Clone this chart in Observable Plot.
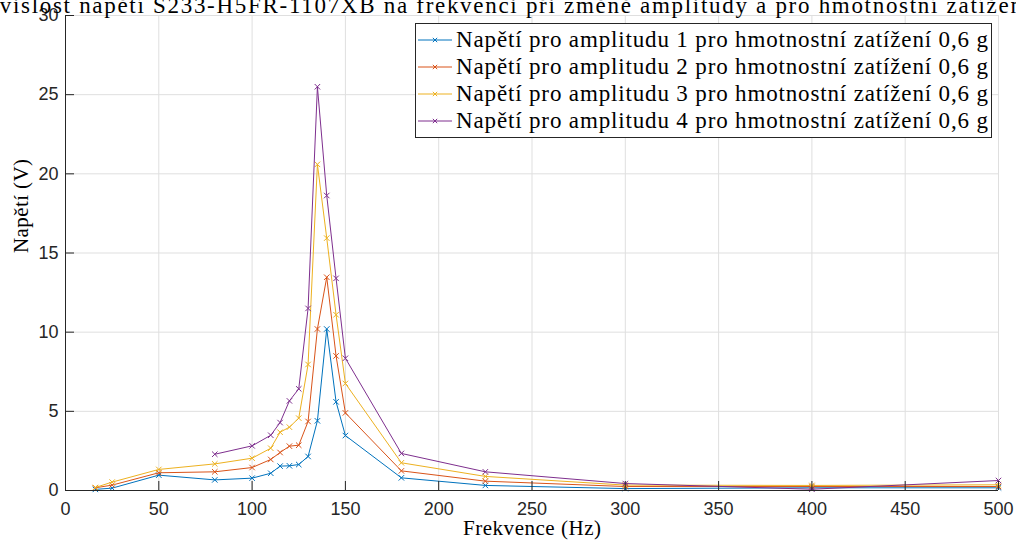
<!DOCTYPE html>
<html><head><meta charset="utf-8">
<script src="https://cdn.jsdelivr.net/npm/d3@7"></script>
<script src="https://cdn.jsdelivr.net/npm/@observablehq/plot@0.6"></script>
<style>
html,body{margin:0;padding:0;background:#fff;}
#wrap{position:relative;width:1016px;height:544px;overflow:hidden;}
#legend{position:absolute;left:415px;top:23px;}
</style></head><body><div id="wrap"></div>
<script>
const title = "Závislost napětí S233-H5FR-1107XB na frekvenci při změně amplitudy a pro hmotnostní zatížení 0,6 g";
const xLabel = "Frekvence (Hz)";
const yLabel = "Napětí (V)";
const seriesNames = [
  "Napětí pro amplitudu 1 pro hmotnostní zatížení 0,6 g",
  "Napětí pro amplitudu 2 pro hmotnostní zatížení 0,6 g",
  "Napětí pro amplitudu 3 pro hmotnostní zatížení 0,6 g",
  "Napětí pro amplitudu 4 pro hmotnostní zatížení 0,6 g"
];
const colors = ["#0072BD", "#D95319", "#EDB120", "#7E2F8E"];
const freq = [16, 25, 50, 80, 100, 110, 115, 120, 125, 130, 135, 140, 145, 150, 180, 225, 300, 400, 500];
const amp1 = [0.07, 0.15, 0.97, 0.67, 0.78, 1.09, 1.54, 1.56, 1.64, 2.15, 4.4, 10.2, 5.6, 3.47, 0.8, 0.32, 0.12, 0.17, 0.17];
const amp2 = [0.17, 0.34, 1.12, 1.18, 1.45, 1.96, 2.4, 2.8, 2.86, 4.36, 10.2, 13.47, 8.5, 4.9, 1.24, 0.59, 0.25, 0.25, 0.25];
const amp3 = [0.19, 0.53, 1.33, 1.68, 2.04, 2.67, 3.68, 4.0, 4.57, 7.96, 20.6, 15.94, 11.1, 6.76, 1.75, 0.89, 0.34, 0.32, 0.36];
const amp4 = [null, null, null, 2.29, 2.82, 3.49, 4.29, 5.66, 6.42, 11.5, 25.5, 18.63, 13.4, 8.35, 2.34, 1.18, 0.44, 0.08, 0.63];
const xTicks = [0, 50, 100, 150, 200, 250, 300, 350, 400, 450, 500];
const yTicks = [0, 5, 10, 15, 20, 25, 30];

const series = [amp1, amp2, amp3, amp4];
const rows = series.map((vals, i) =>
  freq.map((f, j) => ({f, v: vals[j], s: i})).filter(d => d.v != null));

const W = 1016, H = 544, mL = 65, mR = 18, mT = 15, mB = 54;
const innerW = W - mL - mR, innerH = H - mT - mB, tick = 9;
const axisColor = "#262626";
const serif = "'Liberation Serif', 'Times New Roman', 'DejaVu Serif', serif";

const chart = Plot.plot({
  width: W, height: H,
  marginLeft: mL, marginRight: mR, marginTop: mT, marginBottom: mB,
  style: {fontFamily: "'Liberation Sans', Arial, sans-serif", fontSize: "18px", color: axisColor, background: "white", overflow: "visible"},
  x: {domain: [0, 500]},
  y: {domain: [0, 30]},
  marks: [
    Plot.gridX(xTicks, {stroke: "#dfdfdf", strokeOpacity: 1}),
    Plot.gridY(yTicks, {stroke: "#dfdfdf", strokeOpacity: 1}),
    ...rows.flatMap((r, i) => [
      Plot.line(r, {x: "f", y: "v", stroke: colors[i], strokeWidth: 1}),
      Plot.dot(r, {x: "f", y: "v", symbol: "times", r: 2.6, stroke: colors[i], strokeWidth: 1})
    ]),
    Plot.ruleX(xTicks, {stroke: axisColor, insetTop: innerH - tick}),
    Plot.ruleY(yTicks, {stroke: axisColor, insetRight: innerW - tick}),
    Plot.ruleX([0], {stroke: axisColor}),
    Plot.ruleY([0], {stroke: axisColor}),
    Plot.axisX(xTicks, {tickSize: 0, tickPadding: 12, label: null, fill: axisColor}),
    Plot.axisY(yTicks, {tickSize: 0, tickPadding: 7, label: null, fill: axisColor}),
    Plot.text([xLabel], {text: d => d, frameAnchor: "bottom", dy: 44, fontSize: 21, fill: "#000"}),
    Plot.text([yLabel], {text: d => d, frameAnchor: "left", rotate: -90, dx: -44, fontSize: 21, fill: "#000"}),
    Plot.text([title], {text: d => d, frameAnchor: "top", dy: -3, lineAnchor: "bottom", fontSize: 23, fill: "#000"})
  ]
});
const wrap = document.getElementById("wrap");
wrap.appendChild(chart);

const fit = {[title]: 1120, [xLabel]: 138, [yLabel]: 94};
d3.select(chart).selectAll("text").each(function() {
  const t = this.textContent;
  if (fit[t]) d3.select(this).style("font-family", serif)
    .attr("textLength", fit[t]).attr("lengthAdjust", "spacing");
});

// Legend
const LW = 576, LH = 114, rowH = 27;
const leg = d3.select(wrap).append("svg").attr("id", "legend")
  .attr("width", LW + 1).attr("height", LH + 1);
leg.append("rect").attr("x", 0.5).attr("y", 0.5).attr("width", LW).attr("height", LH)
  .attr("fill", "white").attr("stroke", axisColor).attr("stroke-width", 1);
const sym = d3.symbol(d3.symbolTimes, 14)();
seriesNames.forEach((name, i) => {
  const cy = (LH - rowH * seriesNames.length) / 2 + rowH * (i + 0.5) + 0.5;
  const g = leg.append("g");
  g.append("line").attr("x1", 3).attr("x2", 37).attr("y1", cy).attr("y2", cy)
    .attr("stroke", colors[i]).attr("stroke-width", 1);
  g.append("path").attr("d", sym).attr("transform", `translate(20,${cy})`)
    .attr("fill", "none").attr("stroke", colors[i]).attr("stroke-width", 1);
  g.append("text").attr("x", 41).attr("y", cy).attr("dy", "0.32em")
    .style("font-family", serif).attr("font-size", 23).attr("fill", "#000")
    .attr("textLength", 532).attr("lengthAdjust", "spacing").text(name);
});
</script></body></html>
